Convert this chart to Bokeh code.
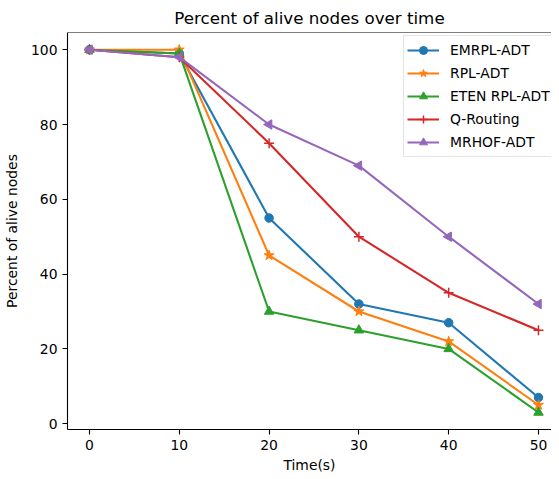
import numpy as np
from bokeh.plotting import figure
from bokeh.models import FixedTicker, Span, Legend
from bokeh.embed import file_html
from bokeh.resources import INLINE

# ---- data ----
time_s = [0, 10, 20, 30, 40, 50]
emrpl_adt = [100, 99, 55, 32, 27, 7]
rpl_adt = [100, 100, 45, 30, 22, 5]
eten_rpl_adt = [100, 99, 30, 25, 20, 3]
q_routing = [100, 98, 75, 50, 35, 25]
mrhof_adt = [100, 98, 80, 69, 50, 32]

series_names = ["EMRPL-ADT", "RPL-ADT", "ETEN RPL-ADT", "Q-Routing", "MRHOF-ADT"]
series_values = [emrpl_adt, rpl_adt, eten_rpl_adt, q_routing, mrhof_adt]
colors = ["#1f77b4", "#ff7f0e", "#2ca02c", "#d62728", "#9467bd"]
markers = ["circle", "star", "triangle", "cross", "triangle"]
angles = [0, 0, 0, 0, np.pi / 2]
sizes = [8.5, 10.5, 9.5, 10, 9.5]

x_ticks = [0, 10, 20, 30, 40, 50]
y_ticks = [0, 20, 40, 60, 80, 100]

FONT = "DejaVu Sans"

p = figure(
    frame_width=484, frame_height=397,
    min_border_left=59, min_border_right=0, min_border_top=28, min_border_bottom=38,
    x_range=(-2.45, 51.45), y_range=(-1.55, 104.6),
    output_backend="svg", toolbar_location=None,
    title="Percent of alive nodes over time",
)
p.title.align = "center"
p.title.text_font = FONT
p.title.text_font_size = "16.7px"
p.title.text_font_style = "normal"
p.title.text_color = "black"
p.title.standoff = 10

p.xgrid.visible = False
p.ygrid.visible = False
p.outline_line_color = None
p.background_fill_color = "white"
p.border_fill_color = "white"

for ax in (p.xaxis, p.yaxis):
    ax.axis_line_color = "black"
    ax.axis_line_width = 1.1
    ax.major_tick_line_color = "black"
    ax.major_tick_line_width = 1.1
    ax.major_tick_out = 5
    ax.major_tick_in = 0
    ax.minor_tick_line_color = None
    ax.major_label_text_font = FONT
    ax.major_label_text_font_size = "13.9px"
    ax.major_label_text_color = "black"
    ax.major_label_standoff = 5
    ax.axis_label_text_font = FONT
    ax.axis_label_text_font_size = "13.9px"
    ax.axis_label_text_font_style = "normal"
    ax.axis_label_text_color = "black"

p.xaxis.ticker = FixedTicker(ticks=x_ticks)
p.yaxis.ticker = FixedTicker(ticks=y_ticks)
p.xaxis.axis_label = "Time(s)"
p.yaxis.axis_label = "Percent of alive nodes"
p.xaxis.axis_label_standoff = 4
p.yaxis.axis_label_standoff = 8

# top spine
p.add_layout(Span(location=104.6, dimension="width", line_color="black", line_width=1.1))

items = []
for name, vals, c, m, a, s in zip(series_names, series_values, colors, markers, angles, sizes):
    r1 = p.line(time_s, vals, line_color=c, line_width=2.1)
    ang = [a] * len(vals)
    if m == "cross":
        r2 = p.scatter(time_s, vals, marker=m, size=s, line_color=c, line_width=1.5)
    else:
        r2 = p.scatter(time_s, vals, marker=m, size=s, angle=ang, angle_units="rad",
                       fill_color=c, line_color=c, line_width=1)
    items.append((name, [r1, r2]))

legend = Legend(items=items, location=(336, 272))
legend.label_text_font = FONT
legend.label_text_font_size = "13.9px"
legend.label_text_color = "black"
legend.glyph_width = 32
legend.glyph_height = 20
legend.label_height = 22
legend.spacing = 1
legend.padding = 3
legend.margin = 0
legend.label_standoff = 11
legend.border_line_color = "#cccccc"
legend.border_line_width = 1
legend.background_fill_alpha = 0.8
p.add_layout(legend)

open("out.html", "w").write(file_html(p, INLINE))
